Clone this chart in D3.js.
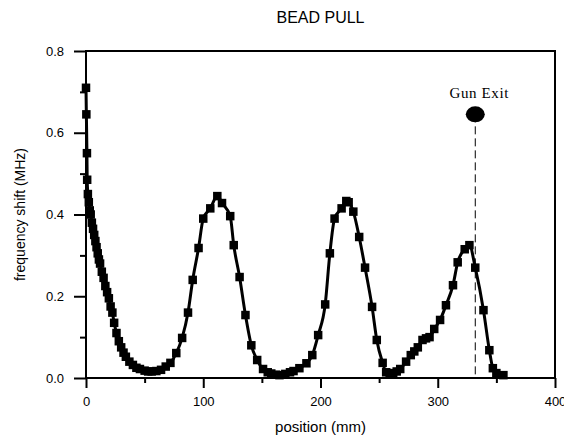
<!DOCTYPE html>
<html>
<head>
<meta charset="utf-8">
<script src="https://cdn.jsdelivr.net/npm/d3@7"></script>
<style>
  body { margin: 0; background: #fff; }
  text { font-family: "Liberation Sans", Arial, sans-serif; }
  text.serif { font-family: "Liberation Serif", "Times New Roman", serif; }
</style>
</head>
<body>
<div id="bead_pull"></div>
<script>
// measured points (position in mm, frequency shift in MHz)
var position = [
  0, 0.3, 0.8, 1.0, 1.6, 2.4, 3.2, 4.0, 5.0, 6.0, 7.0, 8.0, 9.0, 10.0, 11.0,
  12.0, 13.5, 15.0, 16.5, 18.0, 19.5, 21.0, 22.5, 24.0, 26.0, 28.0, 30.0,
  32.0, 34.0, 37.0, 40.0, 43.0, 46.0, 50.0, 53.0, 56.0, 60.0, 64.0, 68.0,
  72.0, 77.0, 82.0, 87.0, 91.0, 96.0, 100.0, 106.0, 112.0, 116.0, 123.0,
  126.0, 131.0, 136.0, 141.0, 146.0, 151.0, 155.0, 158.0, 162.0, 165.0,
  170.0, 174.0, 177.0, 182.0, 188.0, 193.0, 198.0, 204.0, 208.0, 212.0,
  218.0, 222.0, 224.0, 228.0, 233.0, 238.0, 244.0, 248.0, 253.0, 256.0,
  259.0, 262.0, 265.0, 268.0, 273.0, 277.0, 280.0, 283.0, 287.0, 290.0,
  293.0, 297.0, 302.0, 307.0, 313.0, 317.0, 323.0, 327.0, 332.0, 339.0,
  344.0, 347.0, 350.0, 356.0
];
var shift = [
  0.71, 0.645, 0.55, 0.485, 0.45, 0.43, 0.41, 0.4, 0.38, 0.365, 0.35, 0.335,
  0.32, 0.305, 0.29, 0.28, 0.26, 0.245, 0.225, 0.21, 0.195, 0.175, 0.16,
  0.135, 0.11, 0.09, 0.075, 0.062, 0.052, 0.04, 0.032, 0.025, 0.022, 0.018,
  0.016, 0.016, 0.017, 0.02, 0.028, 0.037, 0.061, 0.098, 0.16, 0.24, 0.318,
  0.39, 0.415, 0.445, 0.428, 0.396, 0.325, 0.247, 0.154, 0.08, 0.044, 0.022,
  0.014, 0.011, 0.008, 0.007, 0.01, 0.014, 0.017, 0.024, 0.036, 0.056,
  0.105, 0.18, 0.305, 0.39, 0.415, 0.433, 0.43, 0.407, 0.345, 0.27, 0.174,
  0.093, 0.037, 0.014, 0.01, 0.012, 0.016, 0.022, 0.04, 0.056, 0.065, 0.075,
  0.093, 0.097, 0.1, 0.12, 0.142, 0.178, 0.227, 0.283, 0.315, 0.325, 0.27,
  0.166, 0.068, 0.024, 0.012, 0.007
];
var xTicks = [0, 100, 200, 300, 400];
var xMinorTicks = [50, 150, 250, 350];
var yTicks = [0.0, 0.2, 0.4, 0.6, 0.8];
var yMinorTicks = [0.1, 0.3, 0.5, 0.7];
var gunExit = { pos: 332, shift: 0.645, label: "Gun Exit" };

var width = 564,
  height = 438,
  margins = { left: 86, right: 9, top: 51, bottom: 60 };

var svg = d3
  .select("div#bead_pull")
  .append("svg")
  .attr("width", width)
  .attr("height", height);

var xScale = d3
  .scaleLinear()
  .domain([0, 400])
  .range([margins.left, width - margins.right]);
var yScale = d3
  .scaleLinear()
  .domain([0, 0.8])
  .range([height - margins.bottom, margins.top]);

var data = position.map(function (p, i) {
  return { pos: p, shift: shift[i] };
});

// axes
function drawAxis(axis, transform) {
  var g = svg
    .append("g")
    .attr("transform", transform)
    .call(axis);
  g.select(".domain").remove();
  g.selectAll(".tick line").attr("stroke", "#000").attr("stroke-width", 2);
  g.selectAll("text")
    .attr("font-size", 13)
    .attr("fill", "#000");
  return g;
}

var y0 = yScale(0);
drawAxis(
  d3.axisBottom(xScale).tickValues(xTicks).tickFormat(d3.format("d"))
    .tickSize(10).tickPadding(9),
  `translate(0,${y0})`
);
drawAxis(
  d3.axisBottom(xScale).tickValues(xMinorTicks).tickFormat("").tickSize(5),
  `translate(0,${y0})`
);
drawAxis(
  d3.axisLeft(yScale).tickValues(yTicks).tickFormat(d3.format(".1f"))
    .tickSize(12).tickPadding(10),
  `translate(${margins.left},0)`
);
drawAxis(
  d3.axisLeft(yScale).tickValues(yMinorTicks).tickFormat("").tickSize(6),
  `translate(${margins.left},0)`
);

// frame
svg
  .append("rect")
  .attr("x", margins.left)
  .attr("y", margins.top)
  .attr("width", width - margins.left - margins.right)
  .attr("height", height - margins.top - margins.bottom)
  .attr("fill", "none")
  .attr("stroke", "#000")
  .attr("stroke-width", 2);

// gun exit marker
svg
  .append("line")
  .attr("x1", xScale(gunExit.pos))
  .attr("x2", xScale(gunExit.pos))
  .attr("y1", yScale(gunExit.shift))
  .attr("y2", yScale(0))
  .attr("stroke", "#000")
  .attr("stroke-width", 1)
  .attr("stroke-dasharray", "8,4");
svg
  .append("ellipse")
  .attr("cx", xScale(gunExit.pos))
  .attr("cy", yScale(gunExit.shift))
  .attr("rx", 9.5)
  .attr("ry", 8)
  .attr("fill", "#000");
svg
  .append("text")
  .attr("class", "serif")
  .attr("x", xScale(gunExit.pos) + 4)
  .attr("y", yScale(gunExit.shift) - 16)
  .attr("text-anchor", "middle")
  .attr("font-size", 15)
  .attr("letter-spacing", 0.6)
  .text(gunExit.label);

// curve + markers
var line = d3
  .line()
  .x(function (d) { return xScale(d.pos); })
  .y(function (d) { return yScale(d.shift); })
  .curve(d3.curveMonotoneX);

svg
  .append("path")
  .datum(data)
  .attr("d", line)
  .attr("fill", "none")
  .attr("stroke", "#000")
  .attr("stroke-width", 3);

var msize = 8.5;
svg
  .selectAll("rect.point")
  .data(data)
  .enter()
  .append("rect")
  .attr("class", "point")
  .attr("x", function (d) { return xScale(d.pos) - msize / 2; })
  .attr("y", function (d) { return yScale(d.shift) - msize / 2; })
  .attr("width", msize)
  .attr("height", msize)
  .attr("fill", "#000");

// labels
svg
  .append("text")
  .attr("x", (margins.left + width - margins.right) / 2)
  .attr("y", 23)
  .attr("text-anchor", "middle")
  .attr("font-size", 16)
  .text("BEAD PULL");

svg
  .append("text")
  .attr("x", (margins.left + width - margins.right) / 2)
  .attr("y", 432)
  .attr("text-anchor", "middle")
  .attr("font-size", 15)
  .text("position (mm)");

svg
  .append("text")
  .attr("transform", "rotate(-90)")
  .attr("x", -(margins.top + height - margins.bottom) / 2)
  .attr("y", 25)
  .attr("text-anchor", "middle")
  .attr("font-size", 14)
  .text("frequency shift (MHz)");
</script>
</body>
</html>
